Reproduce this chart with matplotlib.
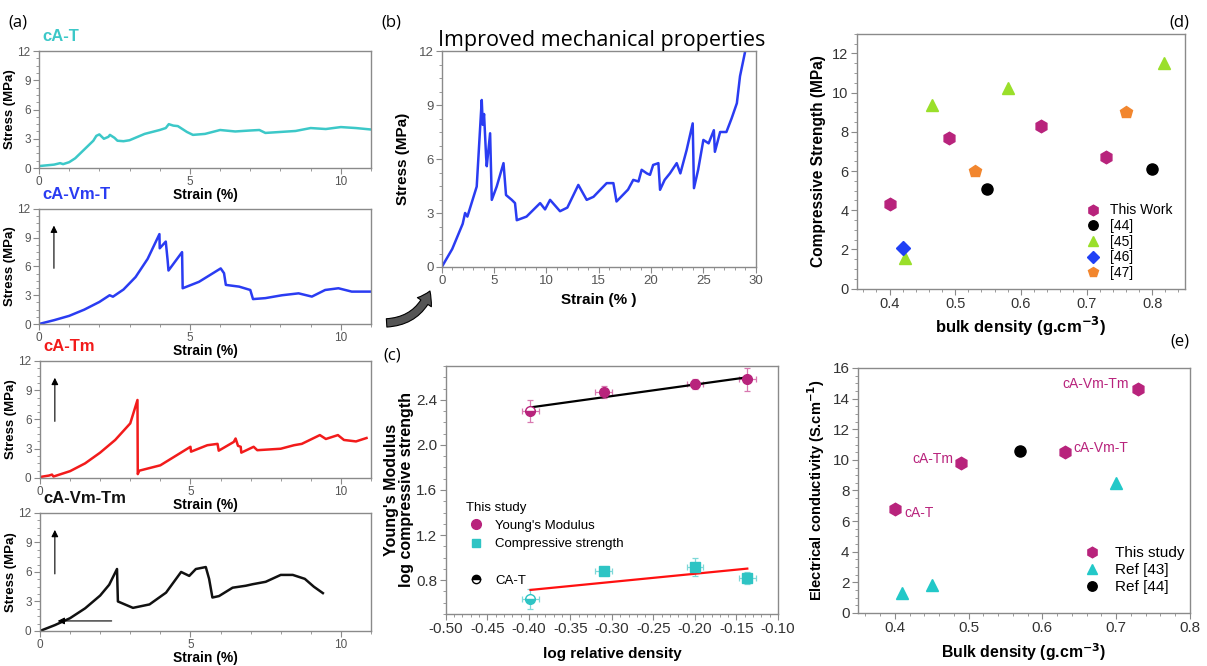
import numpy as np
import matplotlib
matplotlib.use("Agg")
import matplotlib.pyplot as plt
from matplotlib.patches import FancyArrowPatch
from matplotlib.lines import Line2D

plt.rcParams['font.family'] = ['Liberation Sans', 'DejaVu Sans']

# ---- (a) stress-strain curves ----
cat_strain = [0, 0.5, 0.7, 0.8, 1.0, 1.2, 1.5, 1.8, 1.9, 2.0, 2.15, 2.3, 2.35, 2.5, 2.6, 2.8, 3.0, 3.5,
              4.0, 4.2, 4.3, 4.45, 4.6, 4.9, 5.1, 5.5, 6.0, 6.5, 7.0, 7.3, 7.5, 8.0, 8.5, 9.0,
              9.5, 10.0, 10.5, 11.0]
cat_stress = [0.2, 0.35, 0.5, 0.4, 0.6, 1.0, 1.9, 2.8, 3.3, 3.45, 3.0, 3.2, 3.4, 3.1, 2.8, 2.75, 2.85, 3.5,
              3.9, 4.1, 4.5, 4.35, 4.3, 3.7, 3.4, 3.5, 3.9, 3.75, 3.85, 3.9, 3.6, 3.7, 3.8, 4.1,
              4.0, 4.2, 4.1, 3.95]

cavmt_strain = [0, 0.5, 1.0, 1.5, 2.0, 2.34, 2.45, 2.8, 3.2, 3.6, 3.99, 4.0, 4.2, 4.26, 4.29, 4.74, 4.76,
                5.3, 6.02, 6.13, 6.19, 6.63, 7.0, 7.09, 7.5, 8.05, 8.6, 9.04, 9.48, 9.92, 10.36, 11.0]
cavmt_stress = [0, 0.4, 0.85, 1.5, 2.3, 3.0, 2.85, 3.6, 4.9, 6.8, 9.38, 7.9, 8.6, 6.7, 5.58, 7.5, 3.73,
                4.4, 5.8, 5.3, 4.08, 3.9, 3.55, 2.6, 2.7, 3.0, 3.2, 2.86, 3.55, 3.73, 3.38, 3.38]

catm_strain = [0, 0.3, 0.4, 0.45, 1.0, 1.5, 2.0, 2.5, 3.0, 3.24, 3.25, 3.3, 4.0, 5.0, 5.02, 5.56, 5.9,
               5.94, 6.44, 6.5, 6.58, 6.67, 6.69, 7.1, 7.22, 8.0, 8.44, 8.7, 9.3, 9.5, 9.9, 10.1,
               10.5, 10.85]
catm_stress = [0.1, 0.25, 0.35, 0.15, 0.7, 1.5, 2.6, 3.9, 5.6, 8.0, 0.4, 0.75, 1.3, 3.2, 2.7, 3.36, 3.5,
               2.8, 3.7, 4.05, 3.3, 3.2, 2.6, 3.2, 2.85, 3.0, 3.36, 3.5, 4.4, 4.0, 4.4, 3.9,
               3.75, 4.1]

cavmtm_strain = [0, 0.5, 1.0, 1.5, 2.0, 2.3, 2.56, 2.59, 3.09, 3.64, 4.19, 4.69, 4.96, 5.18, 5.51, 5.62,
                 5.73, 5.95, 6.4, 6.84, 7.06, 7.5, 8.0, 8.4, 8.8, 9.1, 9.4]
cavmtm_stress = [0, 0.6, 1.3, 2.3, 3.6, 4.7, 6.3, 3.0, 2.35, 2.7, 3.9, 6.0, 5.6, 6.3, 6.5, 5.3,
                 3.4, 3.55, 4.4, 4.6, 4.75, 5.0, 5.7, 5.7, 5.3, 4.5, 3.85]

# ---- (b) cA-Vm-T extended ----
b_strain = [0, 1.0, 2.0, 2.23, 2.45, 3.34, 3.82, 3.92, 4.04, 4.24, 4.3, 4.62, 4.78, 5.25, 5.9, 6.14,
            6.69, 7.0, 7.17, 8.1, 9.4, 9.87, 10.35, 11.3, 12.0, 13.05, 13.85, 14.5, 15.76, 16.4,
            16.7, 17.8, 18.3, 18.8, 19.1, 19.6, 19.9, 20.2, 20.7, 20.86, 21.3, 21.8, 22.45, 22.8,
            23.4, 23.98, 24.1, 24.5, 25.0, 25.5, 26.0, 26.1, 26.6, 27.2, 27.7, 28.2, 28.5, 29.0]
b_stress = [0, 1.0, 2.4, 3.0, 2.8, 4.47, 9.28, 7.9, 8.5, 6.1, 5.6, 7.43, 3.73, 4.47, 5.77, 4.0,
            3.73, 3.55, 2.6, 2.8, 3.55, 3.2, 3.73, 3.1, 3.3, 4.56, 3.73, 3.9, 4.66, 4.66,
            3.64, 4.3, 4.84, 4.75, 5.4, 5.2, 5.12, 5.67, 5.77, 4.29, 4.84, 5.2, 5.77, 5.2,
            6.5, 7.98, 4.38, 5.4, 7.06, 6.87, 7.6, 6.4, 7.5, 7.5, 8.26, 9.1, 10.6, 12.0]

# ---- (c) log-log scaling ----
c_logrho = [-0.398, -0.31, -0.20, -0.137]
c_modulus = [2.30, 2.47, 2.54, 2.58]
c_modulus_err = [0.10, 0.05, 0.04, 0.10]
c_strength = [0.63, 0.88, 0.92, 0.82]
c_strength_err = [0.09, 0.03, 0.08, 0.05]
c_xerr = [0.01, 0.01, 0.01, 0.01]

# ---- (d) compressive strength vs bulk density ----
d_this_x = [0.40, 0.49, 0.63, 0.73]
d_this_y = [4.3, 7.7, 8.3, 6.7]
d_r44_x = [0.548, 0.80]
d_r44_y = [5.1, 6.1]
d_r45_x = [0.423, 0.465, 0.58, 0.818]
d_r45_y = [1.55, 9.35, 10.25, 11.5]
d_r46_x = [0.42]
d_r46_y = [2.05]
d_r47_x = [0.53, 0.76]
d_r47_y = [6.0, 9.0]

# ---- (e) electrical conductivity vs bulk density ----
e_this_x = [0.40, 0.49, 0.63, 0.73]
e_this_y = [6.8, 9.8, 10.5, 14.65]
e_this_names = ['cA-T', 'cA-Tm', 'cA-Vm-T', 'cA-Vm-Tm']
e_r43_x = [0.41, 0.45, 0.70]
e_r43_y = [1.3, 1.8, 8.5]
e_r44_x = [0.57]
e_r44_y = [10.6]

MAG = '#B8237C'
CYAN = '#2EC4C4'
GRAY = '#8A8A8A'
TICKC = '#555555'

fig = plt.figure(figsize=(12.07, 6.66), dpi=100)


def style_axes(ax, labelsize=8, labelcolor=TICKC):
    for s in ax.spines.values():
        s.set_color(GRAY)
        s.set_linewidth(1.0)
    ax.tick_params(which='both', direction='out', color=GRAY, labelcolor=labelcolor,
                   labelsize=labelsize, top=False, right=False, pad=2)
    ax.tick_params(which='major', length=4)
    ax.tick_params(which='minor', length=2)
    ax.minorticks_on()


# (a) four small panels
a_boxes = [[0.0323, 0.7477, 0.2751, 0.1757],
           [0.0323, 0.5135, 0.2751, 0.1727],
           [0.0331, 0.2823, 0.2743, 0.1757],
           [0.0331, 0.0526, 0.2743, 0.1772]]
a_data = [(cat_strain, cat_stress, '#3CC8C8', 'cA-T'),
          (cavmt_strain, cavmt_stress, '#2A3CF2', 'cA-Vm-T'),
          (catm_strain, catm_stress, '#F21B1B', 'cA-Tm'),
          (cavmtm_strain, cavmtm_stress, '#111111', 'cA-Vm-Tm')]
for i, (box, (sx, sy, col, name)) in enumerate(zip(a_boxes, a_data)):
    ax = fig.add_axes(box)
    ax.plot(sx, sy, color=col, lw=1.8)
    ax.set_xlim(0, 11)
    ax.set_ylim(0, 12)
    ax.set_xticks([0, 5, 10])
    ax.set_yticks([0, 3, 6, 9, 12])
    style_axes(ax, labelsize=8.5)
    ax.set_ylabel('Stress (MPa)', fontsize=9.5, fontweight='bold', labelpad=1)
    ax.set_xlabel('Strain (%)', fontsize=10, fontweight='bold', labelpad=0)
    ax.text(0.01, 1.06, name, transform=ax.transAxes, color=col, fontsize=12,
            fontweight='bold', ha='left', va='bottom')
    if i > 0:
        ax.annotate('', xy=(0.045, 0.88), xytext=(0.045, 0.46), xycoords='axes fraction',
                    arrowprops=dict(arrowstyle='-|>', color='black', lw=0.8, mutation_scale=10))
    if i == 3:
        ax.annotate('', xy=(0.045, 0.085), xytext=(0.225, 0.085), xycoords='axes fraction',
                    arrowprops=dict(arrowstyle='-|>', color='black', lw=0.8, mutation_scale=10))

# (b)
axb = fig.add_axes([0.366, 0.5991, 0.2601, 0.3243])
axb.plot(b_strain, b_stress, color='#2A3CF2', lw=1.8)
axb.set_xlim(0, 30)
axb.set_ylim(0, 12)
axb.set_xticks(range(0, 31, 5))
axb.set_yticks([0, 3, 6, 9, 12])
style_axes(axb, labelsize=9.5)
axb.set_xlabel('Strain (% )', fontsize=11, fontweight='bold', labelpad=4)
axb.set_ylabel('Stress (MPa)', fontsize=11, fontweight='bold', labelpad=6)
axb.set_title('Improved mechanical properties', fontsize=15.5, family=['Open Sans', 'DejaVu Sans'],
              pad=2, x=0.51)

# (c)
axc = fig.add_axes([0.3693, 0.0781, 0.2753, 0.3724])
eb = dict(fmt='none', capsize=2.5, elinewidth=0.9, capthick=0.9)
axc.errorbar(c_logrho, c_modulus, yerr=c_modulus_err, xerr=c_xerr, ecolor='#D878B0', **eb)
axc.errorbar(c_logrho, c_strength, yerr=c_strength_err, xerr=c_xerr, ecolor='#7ED8D8', **eb)
fx = np.array([c_logrho[0], c_logrho[-1]])
pm = np.polyfit(c_logrho, c_modulus, 1)
ps = np.polyfit(c_logrho, c_strength, 1)
axc.plot(fx, np.polyval(pm, fx), color='black', lw=1.6)
axc.plot(fx, np.polyval(ps, fx), color='#FF1010', lw=1.6)
axc.plot(c_logrho[0], c_modulus[0], 'o', ms=7, color=MAG, fillstyle='bottom',
         markerfacecoloralt='white', mec=MAG)
axc.plot(c_logrho[1:], c_modulus[1:], 'o', ms=7, color=MAG)
axc.plot(c_logrho[0], c_strength[0], 'o', ms=7, color=CYAN, fillstyle='bottom',
         markerfacecoloralt='white', mec=CYAN)
axc.plot(c_logrho[1:], c_strength[1:], 's', ms=7, color=CYAN)
axc.set_xlim(-0.5, -0.1)
axc.set_ylim(0.5, 2.7)
axc.set_xticks(np.arange(-0.5, -0.09, 0.05))
axc.set_xticklabels(['%.2f' % v for v in np.arange(-0.5, -0.09, 0.05)])
axc.set_yticks([0.8, 1.2, 1.6, 2.0, 2.4])
style_axes(axc, labelsize=11, labelcolor='#333333')
axc.set_xlabel('log relative density', fontsize=11, fontweight='bold', labelpad=8)
axc.set_ylabel("Young's Modulus\nlog compressive strength", fontsize=11.5, fontweight='bold',
               labelpad=2, linespacing=1.0)
leg_c = [Line2D([0], [0], ls='none', marker='o', ms=7, color=MAG, label="Young's Modulus"),
         Line2D([0], [0], ls='none', marker='s', ms=6, color=CYAN, label='Compressive strength'),
         Line2D([0], [0], ls='none', marker='none', label=' '),
         Line2D([0], [0], ls='none', marker='o', ms=6, color='black', fillstyle='top',
                markerfacecoloralt='white', mec='black', label='CA-T')]
lc = axc.legend(handles=leg_c, loc='upper left', bbox_to_anchor=(0.025, 0.50), frameon=False,
                fontsize=9.5, title='This study', title_fontsize=9.5, handletextpad=0.6,
                labelspacing=0.45, alignment='left', handlelength=1.6)

# (d)
axd = fig.add_axes([0.7098, 0.5665, 0.2720, 0.3829])
axd.plot(d_this_x, d_this_y, 'h', ms=9, color=MAG, ls='none', label='This Work')
axd.plot(d_r44_x, d_r44_y, 'o', ms=8, color='black', ls='none', label='[44]')
axd.plot(d_r45_x, d_r45_y, '^', ms=9, color='#9ADF2A', ls='none', label='[45]')
axd.plot(d_r46_x, d_r46_y, 'D', ms=7, color='#2040F5', ls='none', label='[46]')
axd.plot(d_r47_x, d_r47_y, 'p', ms=9, color='#F2862E', ls='none', label='[47]')
axd.set_xlim(0.35, 0.85)
axd.set_ylim(0, 13)
axd.set_xticks([0.4, 0.5, 0.6, 0.7, 0.8])
axd.set_yticks([0, 2, 4, 6, 8, 10, 12])
style_axes(axd, labelsize=10.5, labelcolor='#333333')
axd.set_xlabel('bulk density (g.cm$^{\\mathbf{-3}}$)', fontsize=12, fontweight='bold', labelpad=3)
axd.set_ylabel('Compressive Strength (MPa)', fontsize=11.2, fontweight='bold', labelpad=4)
axd.legend(loc='lower right', bbox_to_anchor=(1.0, -0.015), frameon=False, fontsize=10,
           handlelength=1.0, handletextpad=0.7, labelspacing=0.12, markerscale=0.85)

# (e)
axe = fig.add_axes([0.7108, 0.0796, 0.2751, 0.3679])
axe.plot(e_this_x, e_this_y, 'h', ms=9, color=MAG, ls='none', label='This study')
axe.plot(e_r43_x, e_r43_y, '^', ms=9, color='#22C8C8', ls='none', label='Ref [43]')
axe.plot(e_r44_x, e_r44_y, 'o', ms=8, color='black', ls='none', label='Ref [44]')
offs = [(7, -3, 'left'), (-6, 3, 'right'), (6, 3, 'left'), (-7, 3, 'right')]
for xx, yy, nm, (dx, dy, ha) in zip(e_this_x, e_this_y, e_this_names, offs):
    axe.annotate(nm, (xx, yy), xytext=(dx, dy), textcoords='offset points', ha=ha, va='center',
                 color=MAG, fontsize=10)
axe.set_xlim(0.35, 0.8)
axe.set_ylim(0, 16)
axe.set_xticks([0.4, 0.5, 0.6, 0.7, 0.8])
axe.set_yticks(range(0, 17, 2))
style_axes(axe, labelsize=11, labelcolor='#333333')
axe.set_xlabel('Bulk density (g.cm$^{\\mathbf{-3}}$)', fontsize=11.4, fontweight='bold')
axe.set_ylabel('Electrical conductivity (S.cm$^{\\mathbf{-1}}$)', fontsize=10.5, fontweight='bold')
axe.legend(loc='lower right', bbox_to_anchor=(1.025, 0.02), frameon=False, fontsize=11,
           handlelength=1.0, handletextpad=1.0, labelspacing=0.2, markerscale=0.85)

# panel letters
for txt, x, y in [('(a)', 0.007, 0.978), ('(b)', 0.316, 0.978), ('(d)', 0.985, 0.978),
                  ('(c)', 0.318, 0.478), ('(e)', 0.985, 0.500)]:
    fig.text(x, y, txt, fontsize=12, ha='left' if x < 0.9 else 'right', va='top',
             family=['Open Sans', 'DejaVu Sans'])

# curved arrow from (a) to (b)
arr = FancyArrowPatch((0.318, 0.515), (0.357, 0.567), transform=fig.transFigure,
                      connectionstyle='arc3,rad=0.35', arrowstyle='simple,head_width=12,head_length=9,tail_width=6',
                      fc='#555555', ec='black', lw=0.8)
fig.patches.append(arr)

fig.savefig('out.png', dpi=100)
